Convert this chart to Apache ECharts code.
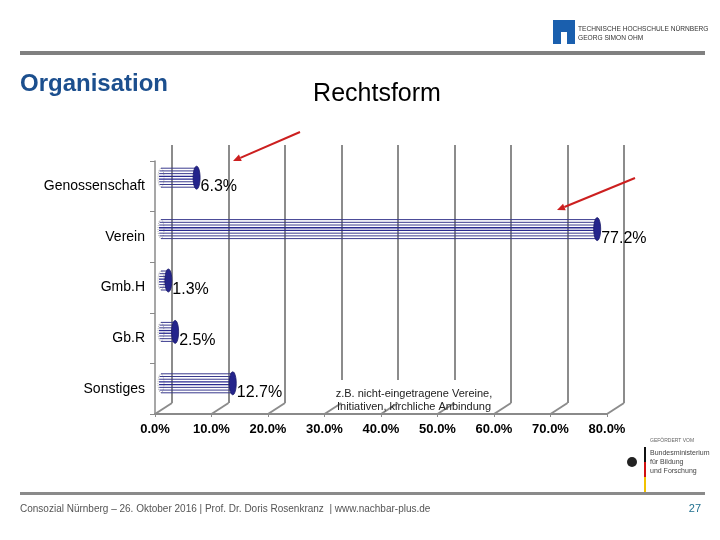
<!DOCTYPE html>
<html><head><meta charset="utf-8">
<script src="https://cdn.jsdelivr.net/npm/echarts@6/dist/echarts.min.js"></script>
<style>html,body{margin:0;padding:0;background:#fff}#c{width:720px;height:540px}</style>
</head><body><div id="c"></div>
<script>
const categories = ['Genossenschaft', 'Verein', 'Gmb.H', 'Gb.R', 'Sonstiges'];
const values = [6.3, 77.2, 1.3, 2.5, 12.7];
const xTicks = [0, 10, 20, 30, 40, 50, 60, 70, 80];
const noteLines = ['z.B. nicht-eingetragene Vereine,', 'Initiativen, kirchliche Anbindung'];
const footerText = 'Consozial Nürnberg – 26. Oktober 2016 | Prof. Dr. Doris Rosenkranz  | www.nachbar-plus.de';

const FONT = '"Liberation Sans", Arial, sans-serif';
const chart = echarts.init(document.getElementById('c'), null, {renderer: 'canvas'});

function ellipsePts(cx, cy, rx, ry) {
  const p = [];
  for (let i = 0; i < 24; i++) {
    const a = i / 24 * Math.PI * 2;
    p.push([cx + rx * Math.cos(a), cy + ry * Math.sin(a)]);
  }
  return p;
}
function arrow(x1, y1, x2, y2, color) {
  const dx = x2 - x1, dy = y2 - y1, L = Math.hypot(dx, dy);
  const ux = dx / L, uy = dy / L, hl = 8, hw = 3.5;
  const bx = x2 - ux * hl, by = y2 - uy * hl;
  return [
    {type: 'line', shape: {x1, y1, x2: bx, y2: by}, style: {stroke: color, lineWidth: 2}, z: 10},
    {type: 'polygon', shape: {points: [[x2, y2], [bx - uy * hw, by + ux * hw], [bx + uy * hw, by - ux * hw]]}, style: {fill: color}, z: 10}
  ];
}

const option = {
  animation: false,
  backgroundColor: '#fff',
  grid: [
    {left: 155, width: 452, top: 161, height: 253},   // front
    {left: 172, width: 452, top: 145, height: 258},   // back wall
    {left: 161, width: 452, top: 152, height: 257}    // bars
  ],
  xAxis: [
    {gridIndex: 0, type: 'value', min: 0, max: 80, interval: 10,
     axisLine: {show: true, lineStyle: {color: '#8a8a8a', width: 2}},
     axisTick: {show: true, length: 3, lineStyle: {color: '#8a8a8a'}},
     splitLine: {show: false},
     axisLabel: {margin: 9, color: '#000', fontSize: 13, fontWeight: 'bold', fontFamily: FONT,
                 formatter: v => v.toFixed(1) + '%'}},
    {gridIndex: 1, type: 'value', min: 0, max: 80, interval: 10,
     axisLine: {show: false}, axisTick: {show: false}, axisLabel: {show: false},
     splitLine: {show: true, lineStyle: {color: '#8c8c8c', width: 2}}},
    {gridIndex: 2, type: 'value', min: 0, max: 80, show: false}
  ],
  yAxis: [
    {gridIndex: 0, type: 'category', data: categories, inverse: true,
     axisLine: {show: true, lineStyle: {color: '#8a8a8a', width: 1.5}},
     axisTick: {show: true, length: 5, lineStyle: {color: '#8a8a8a'}},
     axisLabel: {margin: 10, color: '#000', fontSize: 14, fontFamily: FONT}},
    {gridIndex: 1, type: 'value', min: 0, max: 100, show: false},
    {gridIndex: 2, type: 'category', data: categories, inverse: true, show: false}
  ],
  series: [
    { // floor diagonals from back wall to front axis
      type: 'custom', xAxisIndex: 1, yAxisIndex: 1, z: 3, silent: true,
      data: xTicks,
      renderItem: function (params, api) {
        const p = api.coord([api.value(0), 0]);
        return {type: 'line', shape: {x1: p[0], y1: p[1], x2: p[0] - 17, y2: p[1] + 11},
                style: {stroke: '#8c8c8c', lineWidth: 2}};
      }
    },
    { // cylinder bars
      type: 'custom', xAxisIndex: 2, yAxisIndex: 2, z: 4,
      data: values.map((v, i) => [v, i]),
      renderItem: function (params, api) {
        const v = api.value(0), idx = api.value(1);
        const s = api.coord([0, idx]), e = api.coord([v, idx]);
        const cy = s[1], h = 19;
        const children = [];
        children.push({type: 'polygon', shape: {points: ellipsePts(s[0], cy, 3, h / 2)},
                       style: {fill: 'none', stroke: '#777', lineWidth: 0.6, lineDash: [1, 1]}});
        const n = 8;
        for (let k = 0; k < n; k++) {
          const y = cy - h / 2 + k * h / (n - 1);
          children.push({type: 'line', shape: {x1: s[0] - 2 * Math.sqrt(Math.max(0, 1 - Math.pow((y - cy) / (h / 2), 2))), y1: y, x2: e[0], y2: y},
                         style: {stroke: (k === 3 || k === 4) ? '#2a2a90' : '#3a3a8e', lineWidth: (k === 3 || k === 4) ? 1.3 : 1}});
        }
        children.push({type: 'text', style: {text: v.toFixed(1) + '%', x: e[0] + 4, y: cy + 9,
                       fill: '#000', font: '16px ' + FONT, align: 'left', verticalAlign: 'middle'}});
        children.push({type: 'polygon', shape: {points: ellipsePts(e[0], cy, 3.5, h / 2 + 2)},
                       style: {fill: '#24248c', stroke: '#1a1a6a', lineWidth: 0.8}});
        return {type: 'group', children};
      }
    }
  ],
  graphic: [
    {type: 'rect', shape: {x: 20, y: 51, width: 685, height: 4}, style: {fill: '#808080'}},
    {type: 'rect', shape: {x: 20, y: 492, width: 685, height: 3}, style: {fill: '#8a8a8a'}},
    {type: 'text', style: {text: 'Organisation', x: 20, y: 84, fill: '#1c4f8e', font: 'bold 24px ' + FONT, verticalAlign: 'middle'}},
    {type: 'text', style: {text: 'Rechtsform', x: 377, y: 94, fill: '#000', font: '25px ' + FONT, align: 'center', verticalAlign: 'middle'}},
    // THN logo
    {type: 'polygon', shape: {points: [[553, 20], [575, 20], [575, 44], [567, 44], [567, 32], [561, 32], [561, 44], [553, 44]]}, style: {fill: '#1a5fae'}},
    {type: 'text', style: {text: 'TECHNISCHE HOCHSCHULE NÜRNBERG', x: 578, y: 29, fill: '#333', font: '6.6px ' + FONT, verticalAlign: 'middle'}},
    {type: 'text', style: {text: 'GEORG SIMON OHM', x: 578, y: 38, fill: '#333', font: '6.6px ' + FONT, verticalAlign: 'middle'}},
    // note box
    {type: 'rect', z: 2, shape: {x: 333, y: 380, width: 165, height: 23}, style: {fill: '#fff'}},
    {type: 'text', z: 5, style: {text: noteLines[0], x: 414, y: 394, fill: '#222', font: '11px ' + FONT, align: 'center', verticalAlign: 'middle'}},
    {type: 'text', z: 5, style: {text: noteLines[1], x: 414, y: 407, fill: '#222', font: '11px ' + FONT, align: 'center', verticalAlign: 'middle'}},
    // BMBF logo
    {type: 'text', style: {text: 'GEFÖRDERT VOM', x: 650, y: 441, fill: '#666', font: '5px ' + FONT, verticalAlign: 'middle'}},
    {type: 'circle', shape: {cx: 632, cy: 462, r: 5}, style: {fill: '#222'}},
    {type: 'rect', shape: {x: 644, y: 447, width: 2, height: 15}, style: {fill: '#111'}},
    {type: 'rect', shape: {x: 644, y: 462, width: 2, height: 15}, style: {fill: '#d01010'}},
    {type: 'rect', shape: {x: 644, y: 477, width: 2, height: 15}, style: {fill: '#f2c200'}},
    {type: 'text', style: {text: 'Bundesministerium\nfür Bildung\nund Forschung', x: 650, y: 462, fill: '#444', font: '7px ' + FONT, lineHeight: 9, verticalAlign: 'middle'}},
    // footer
    {type: 'text', style: {text: footerText, x: 20, y: 509, fill: '#555', font: '10px ' + FONT, verticalAlign: 'middle'}},
    {type: 'text', style: {text: '27', x: 701, y: 509, fill: '#1f6f8f', font: '11px ' + FONT, align: 'right', verticalAlign: 'middle'}},
    ...arrow(300, 132, 233, 161, '#cc1f1f'),
    ...arrow(635, 178, 557, 210, '#cc1f1f')
  ]
};
chart.setOption(option);
</script>
</body></html>
